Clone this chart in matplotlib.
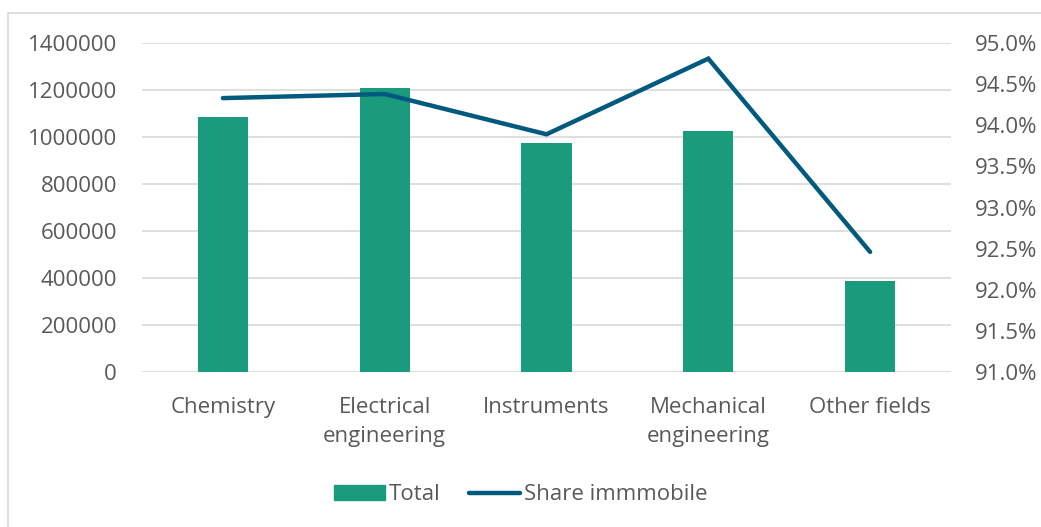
import matplotlib.pyplot as plt
from matplotlib.patches import Rectangle
from matplotlib.lines import Line2D
import numpy as np

plt.rcParams['font.family'] = ['Open Sans', 'DejaVu Sans']

categories = ['Chemistry', 'Electrical\nengineering', 'Instruments',
              'Mechanical\nengineering', 'Other fields']
total = [1085000, 1208000, 974000, 1025000, 387000]
share_immobile = [94.33, 94.38, 93.89, 94.81, 92.46]

bar_color = '#1A9B7C'
line_color = '#005A80'
text_color = '#595959'
grid_color = '#D9D9D9'
fs = 16

fig = plt.figure(figsize=(10.41, 5.27), dpi=100)
# chart border
fig.patches.append(Rectangle((8 / 1041, -0.2), 1.2, 1.2 - 13 / 527, transform=fig.transFigure,
                             fill=False, edgecolor=grid_color, linewidth=1.2))

ax = fig.add_axes([142 / 1041, 1 - 372 / 527, (951 - 142) / 1041, (372 - 43) / 527])
x = np.arange(len(categories))
ax.bar(x, total, width=0.31, color=bar_color, zorder=2)
ax.set_xlim(-0.5, len(categories) - 0.5)
ax.set_ylim(0, 1400000)
ax.set_yticks(np.arange(0, 1400001, 200000))
ax.set_yticklabels([str(v) for v in range(0, 1400001, 200000)])
ax.set_xticks(x)
ax.set_xticklabels(categories, linespacing=1.5)
ax.grid(axis='y', color=grid_color, linewidth=1.2, zorder=0)
for s in ax.spines.values():
    s.set_visible(False)
ax.tick_params(length=0, labelsize=fs, colors=text_color)
ax.tick_params(axis='y', pad=18)
ax.tick_params(axis='x', pad=18)

ax2 = ax.twinx()
ax2.plot(x, share_immobile, color=line_color, linewidth=3.2, solid_capstyle='round',
         solid_joinstyle='miter', zorder=3)
ax2.set_ylim(91.0, 95.0)
ax2.set_yticks(np.arange(91.0, 95.01, 0.5))
ax2.set_yticklabels(['%.1f%%' % v for v in np.arange(91.0, 95.01, 0.5)])
for s in ax2.spines.values():
    s.set_visible(False)
ax2.tick_params(length=0, labelsize=fs, colors=text_color, pad=17)

handles = [Rectangle((0, 0), 1, 1, color=bar_color),
           Line2D([0], [0], color=line_color, linewidth=3.2, solid_capstyle='round')]
fig.legend(handles, ['Total', 'Share immmobile'], loc='center',
           bbox_to_anchor=(0.5, 1 - 495 / 527), ncol=2, frameon=False,
           fontsize=fs, labelcolor=text_color, handlelength=2.3, handletextpad=0.15,
           columnspacing=1.3, handleheight=0.65)

fig.savefig('out.png', dpi=100)
